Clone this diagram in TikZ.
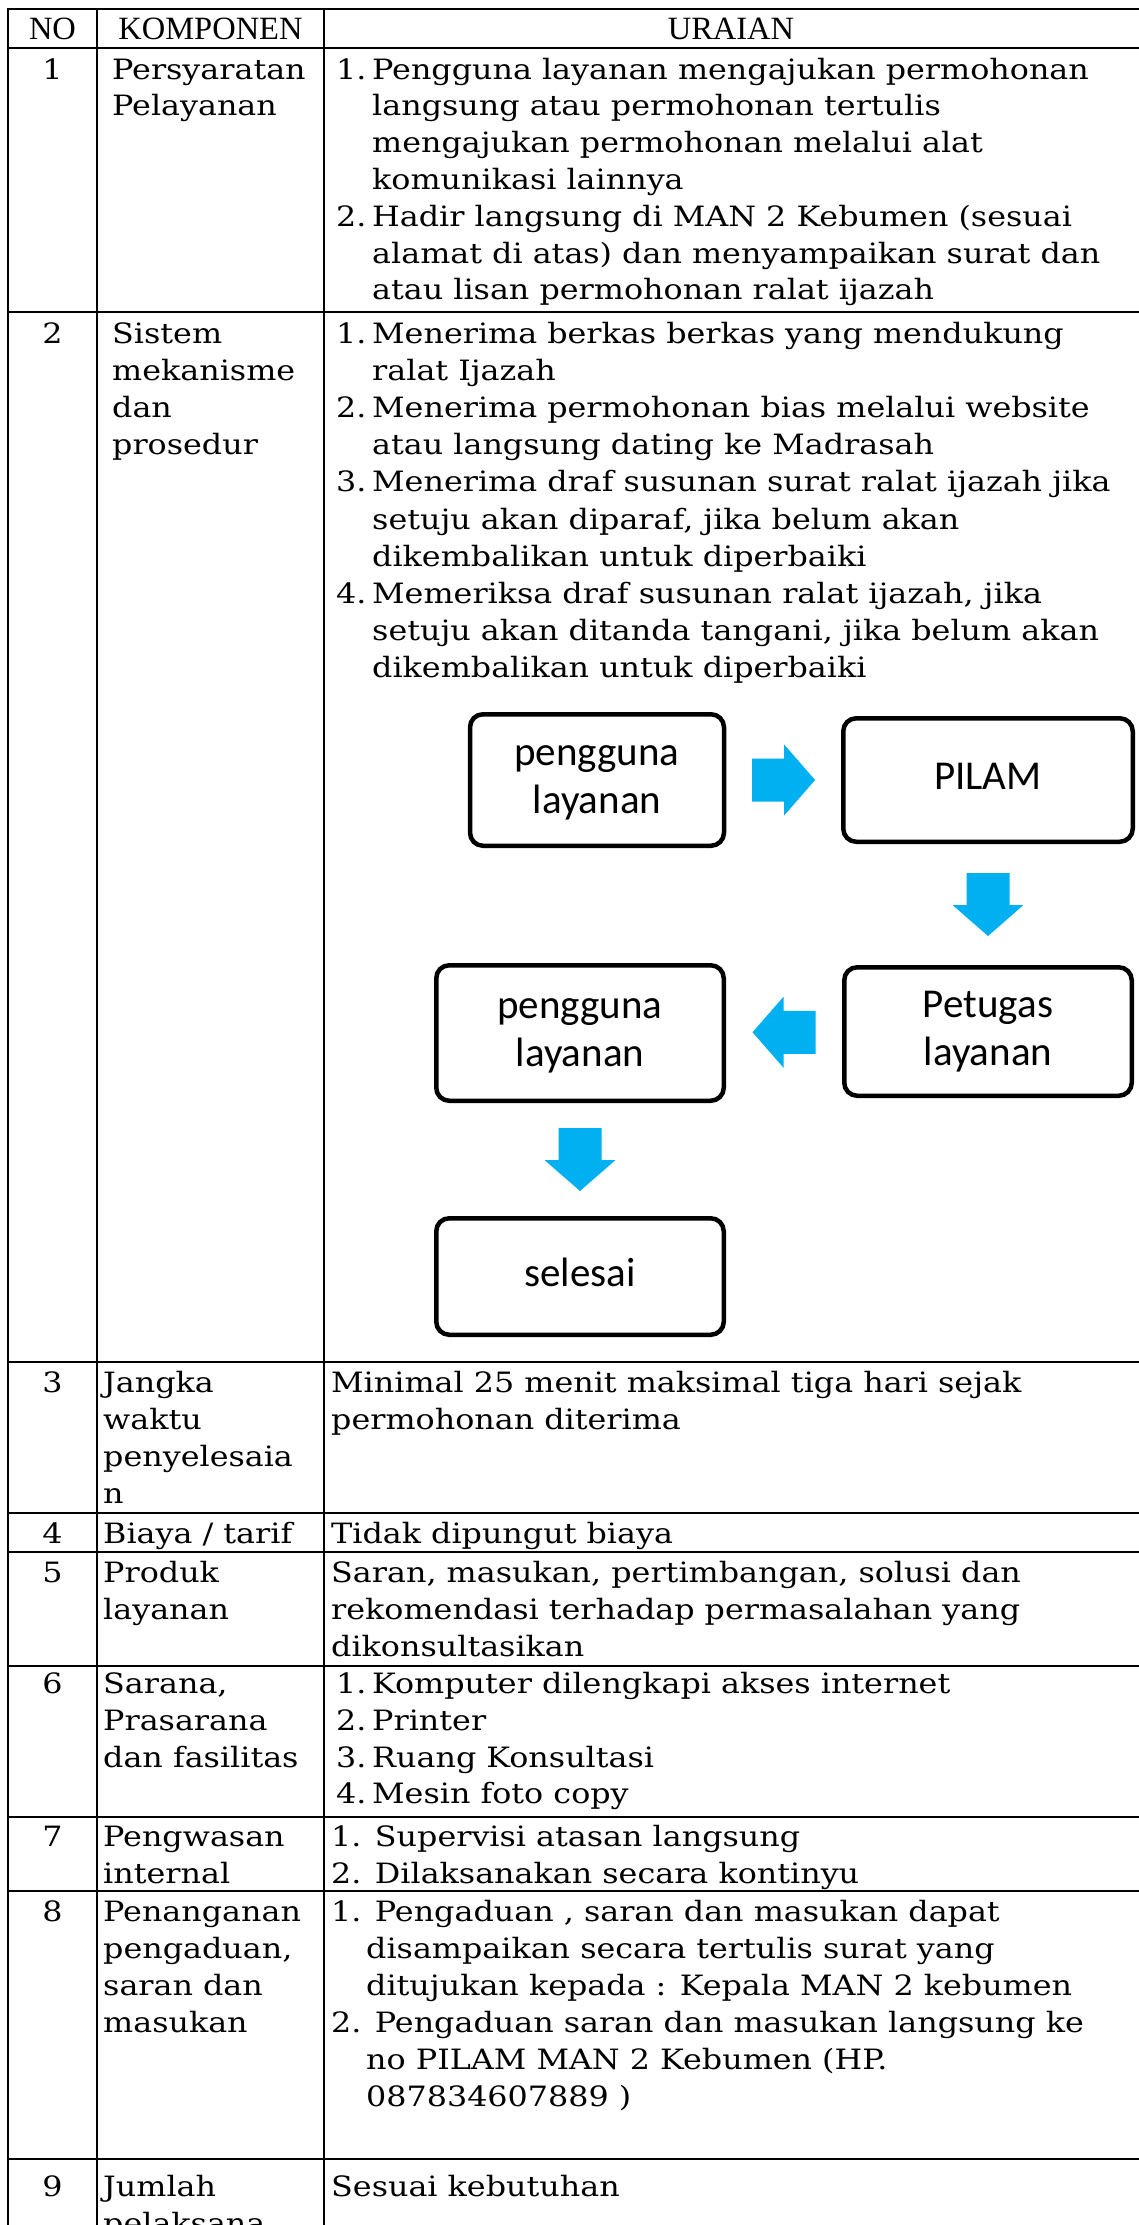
\documentclass[tikz,border=0pt]{standalone}
\usepackage{fontspec}
\setmainfont{DejaVu Serif}[FakeStretch=1.135]
\newfontfamily\headfont{Liberation Serif}
\newfontfamily\flowfont{Carlito}
\usetikzlibrary{calc}
\definecolor{arrowblue}{RGB}{0,176,240}
\tikzset{
  rule/.style={line width=2.5pt, line cap=rect},
  txt/.style={anchor=base west, inner sep=0pt, font=\fontsize{28}{37}\selectfont},
  numc/.style={anchor=base, inner sep=0pt, font=\fontsize{28}{37}\selectfont},
  headc/.style={anchor=base, inner sep=0pt, font=\headfont\fontsize{32.5}{39}\selectfont},
  flowbox/.style={draw, line width=4.5pt, rounded corners=13pt, align=center,
    inner sep=0pt, font=\flowfont\fontsize{41}{48}\selectfont},
  pics/blockarrow/.style={code={
    \fill[arrowblue] (-31.5,-21.5) -- (0.5,-21.5) -- (0.5,-35.5) -- (31.5,0)
      -- (0.5,35.5) -- (0.5,21.5) -- (-31.5,21.5) -- cycle;}},
}
% one line of cell text: name, x, baseline, text
\newcommand\cellline[4]{\node[txt] (#1) at (#2,#3) {#4};}
\begin{document}
\begin{tikzpicture}[x=1pt,y=-1pt]
\useasboundingbox (0,0) rectangle (1139,2225);
\clip (0,0) rectangle (1139,2225);

% table rules
\foreach \yy in {9,48,312,1362,1513,1552,1666,1817,1891,2159}
  \draw[rule] (8,\yy) -- (1150,\yy);
\foreach \xx in {8,97,324}
  \draw[rule] (\xx,9) -- (\xx,2240);

% header
\node[headc] (hno) at (52.5,39) {NO};
\node[headc] (hkomp) at (210.5,39) {KOMPONEN};
\node[headc] (hur) at (731,39) {URAIAN};

% row 1
\node[numc] (n1) at (52.5,79) {1};
\cellline{k1a}{112}{79}{Persyaratan}
\cellline{k1b}{112}{115.8}{Pelayanan}
\cellline{u1p1}{336}{79}{1.}
\cellline{u1a}{372}{79}{Pengguna layanan mengajukan permohonan}
\cellline{u1b}{372}{115.8}{langsung atau permohonan tertulis}
\cellline{u1c}{372}{152.6}{mengajukan permohonan melalui alat}
\cellline{u1d}{372}{189.4}{komunikasi lainnya}
\cellline{u1p2}{336}{226.2}{2.}
\cellline{u1e}{372}{226.2}{Hadir langsung di MAN 2 Kebumen (sesuai}
\cellline{u1f}{372}{263}{alamat di atas) dan menyampaikan surat dan}
\cellline{u1g}{372}{299.8}{atau lisan permohonan ralat ijazah}

% row 2
\node[numc] (n2) at (52.5,343.5) {2};
\cellline{k2a}{112}{343.5}{Sistem}
\cellline{k2b}{112}{380.6}{mekanisme}
\cellline{k2c}{112}{417.7}{dan}
\cellline{k2d}{112}{454.8}{prosedur}
\cellline{u2p1}{336}{343.5}{1.}
\cellline{u2a}{372}{343.5}{Menerima berkas berkas yang mendukung}
\cellline{u2b}{372}{380.6}{ralat Ijazah}
\cellline{u2p2}{336}{417.7}{2.}
\cellline{u2c}{372}{417.7}{Menerima permohonan bias melalui website}
\cellline{u2d}{372}{454.8}{atau langsung dating ke Madrasah}
\cellline{u2p3}{336}{491.9}{3.}
\cellline{u2e}{372}{491.9}{Menerima draf susunan surat ralat ijazah jika}
\cellline{u2f}{372}{529}{setuju akan diparaf, jika belum akan}
\cellline{u2g}{372}{566.1}{dikembalikan untuk diperbaiki}
\cellline{u2p4}{336}{603.2}{4.}
\cellline{u2h}{372}{603.2}{Memeriksa draf susunan ralat ijazah, jika}
\cellline{u2i}{372}{640.3}{setuju akan ditanda tangani, jika belum akan}
\cellline{u2j}{372}{677.4}{dikembalikan untuk diperbaiki}

% service flow
\node[flowbox, minimum width=254pt, minimum height=131.5pt] (b1) at (597,780)
  {\strut pengguna\\\strut layanan};
\node[flowbox, minimum width=289.5pt, minimum height=123.5pt] (b2) at (988,780)
  {\strut PILAM};
\node[flowbox, minimum width=287.5pt, minimum height=128.5pt] (b3) at (988,1031.5)
  {\strut Petugas\\\strut layanan};
\node[flowbox, minimum width=287.5pt, minimum height=135.5pt] (b4) at (580,1033)
  {\strut pengguna\\\strut layanan};
\node[flowbox, minimum width=287.5pt, minimum height=116.5pt] (b5) at (580,1276.5)
  {\strut selesai};
\pic at ($(b1.east)!0.5!(b2.west)$) {blockarrow};
\pic[rotate=-90] at ($(b2.south)!0.5!(b3.north)$) {blockarrow};
\pic[rotate=180] at ($(b3.west)!0.5!(b4.east)$) {blockarrow};
\pic[rotate=-90] at ($(b4.south)!0.5!(b5.north)$) {blockarrow};

% row 3
\node[numc] (n3) at (52.5,1392) {3};
\cellline{k3a}{103}{1392}{Jangka}
\cellline{k3b}{103}{1429}{waktu}
\cellline{k3c}{103}{1466}{penyelesaia}
\cellline{k3d}{103}{1503}{n}
\cellline{u3a}{331}{1392}{Minimal 25 menit maksimal tiga hari sejak}
\cellline{u3b}{331}{1429}{permohonan diterima}

% row 4
\node[numc] (n4) at (52.5,1543) {4};
\cellline{k4a}{103}{1543}{Biaya / tarif}
\cellline{u4a}{331}{1543}{Tidak dipungut biaya}

% row 5
\node[numc] (n5) at (52.5,1582) {5};
\cellline{k5a}{103}{1582}{Produk}
\cellline{k5b}{103}{1619}{layanan}
\cellline{u5a}{331}{1582}{Saran, masukan, pertimbangan, solusi dan}
\cellline{u5b}{331}{1619}{rekomendasi terhadap permasalahan yang}
\cellline{u5c}{331}{1656}{dikonsultasikan}

% row 6
\node[numc] (n6) at (52.5,1693) {6};
\cellline{k6a}{103}{1693}{Sarana,}
\cellline{k6b}{103}{1730}{Prasarana}
\cellline{k6c}{103}{1767}{dan fasilitas}
\cellline{u6p1}{336}{1693}{1.}
\cellline{u6a}{372}{1693}{Komputer dilengkapi akses internet}
\cellline{u6p2}{336}{1730}{2.}
\cellline{u6b}{372}{1730}{Printer}
\cellline{u6p3}{336}{1767}{3.}
\cellline{u6c}{372}{1767}{Ruang Konsultasi}
\cellline{u6p4}{336}{1803}{4.}
\cellline{u6d}{372}{1803}{Mesin foto copy}

% row 7
\node[numc] (n7) at (52.5,1846) {7};
\cellline{k7a}{103}{1846}{Pengwasan}
\cellline{k7b}{103}{1883}{internal}
\cellline{u7a}{331}{1846}{1. Supervisi atasan langsung}
\cellline{u7b}{331}{1883}{2. Dilaksanakan secara kontinyu}

% row 8
\node[numc] (n8) at (52.5,1921) {8};
\cellline{k8a}{103}{1921}{Penanganan}
\cellline{k8b}{103}{1958}{pengaduan,}
\cellline{k8c}{103}{1995}{saran dan}
\cellline{k8d}{103}{2032}{masukan}
\cellline{u8a}{331}{1921}{1. Pengaduan , saran dan masukan dapat}
\cellline{u8b}{366}{1958}{disampaikan secara tertulis surat yang}
\cellline{u8c}{366}{1995}{ditujukan kepada : Kepala MAN 2 kebumen}
\cellline{u8d}{331}{2032}{2. Pengaduan saran dan masukan langsung ke}
\cellline{u8e}{366}{2069}{no PILAM MAN 2 Kebumen (HP.}
\cellline{u8f}{366}{2106}{087834607889 )}

% row 9
\node[numc] (n9) at (52.5,2196) {9};
\cellline{k9a}{103}{2196}{Jumlah}
\cellline{k9b}{103}{2233}{pelaksana}
\cellline{u9a}{331}{2196}{Sesuai kebutuhan}
\end{tikzpicture}
\end{document}
